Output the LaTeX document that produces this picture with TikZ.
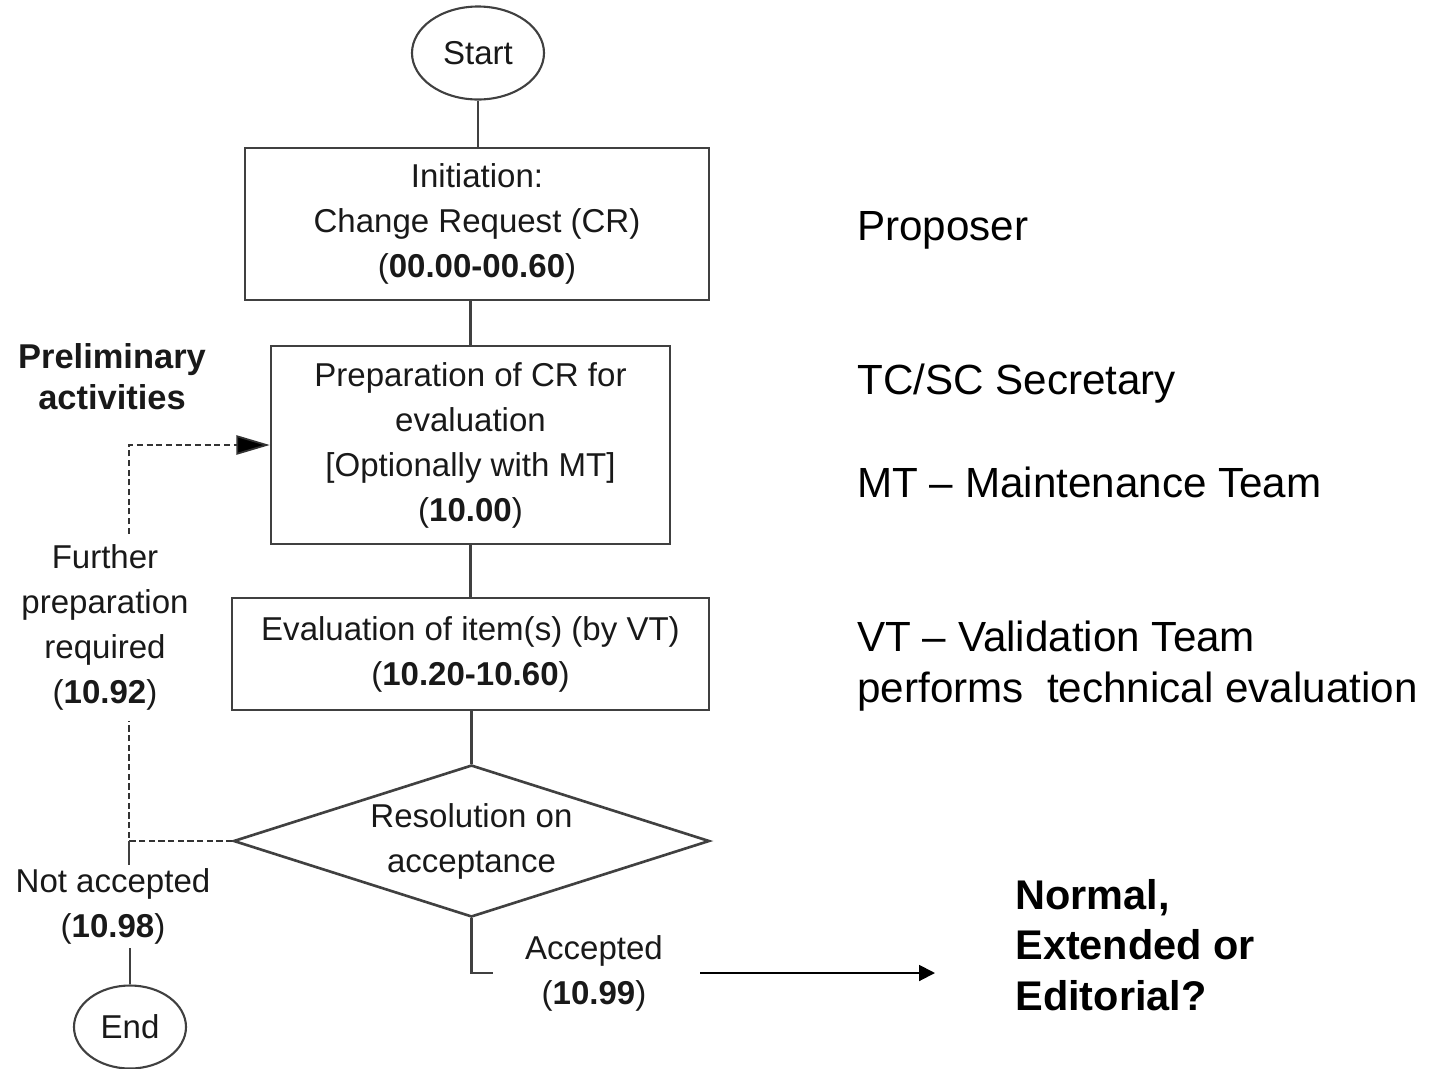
\documentclass[tikz,border=0pt]{standalone}
\usepackage{fontspec}
\setmainfont{Liberation Sans}
\usetikzlibrary{shapes.geometric,arrows.meta}
\newcommand{\flowfont}{\fontsize{18.8}{25.6}\selectfont}

\begin{document}
\begin{tikzpicture}[
        box/.style={draw=black!75,line width=1.5pt,inner sep=0pt,align=center,text=black!90,font=\flowfont},
        term/.style={draw=black!75,line width=1.2pt,ellipse,inner sep=0pt,text=black!90,font=\flowfont},
        lbl/.style={inner sep=2pt,align=center,text=black!90,font=\flowfont},
        side/.style={anchor=base west,inner sep=0pt,align=left,font=\fontsize{24}{28.5}\selectfont},
        link/.style={black!75,line width=1.5pt},
        back/.style={black!80,line width=1pt,dash pattern=on 3.5pt off 2pt},
    ]
        \useasboundingbox (0,0) rectangle (28.62,-21.38);
        %% Blocks
        \node[term,minimum width=2.64cm,minimum height=1.86cm] (Start) at (9.56,-1.06) {Start};
        \node[box,minimum width=9.28cm,minimum height=3.04cm] (Init) at (9.54,-4.48) {Initiation:\\ Change Request (CR)\\ (\textbf{00.00-00.60})};
        \node[box,minimum width=7.98cm,minimum height=3.96cm] (Prep) at (9.41,-8.9) {Preparation of CR for\\ evaluation\\ {[Optionally with MT]}\\ (\textbf{10.00})};
        \node[box,minimum width=9.54cm,minimum height=2.24cm] (Eval) at (9.41,-13.08) {Evaluation of item(s) (by VT)\\ (\textbf{10.20-10.60})};
        \node[box,diamond,aspect=3.13,minimum width=9.52cm,minimum height=3.04cm] (Res) at (9.43,-16.82) {Resolution on\\ acceptance};
        \node[term,minimum width=2.24cm,minimum height=1.66cm] (End) at (2.6,-20.54) {End};
        %% Labels
        \node[align=center,font=\bfseries\fontsize{19.6}{23.3}\selectfont,text=black!90] (Prelim) at (2.24,-7.53) {Preliminary\\ activities};
        \node[lbl,inner sep=6pt] (Further) at (2.1,-12.55) {Further\\ preparation\\ required\\ (\textbf{10.92})};
        \node[lbl] (NotAcc) at (2.26,-18.13) {Not accepted\\ (\textbf{10.98})};
        \node[lbl] (Acc) at (11.88,-19.46) {Accepted\\ (\textbf{10.99})};
        %% Roles (base = last line)
        \node[side] (Proposer) at (17.14,-4.8) {Proposer};
        \node[side] (Secretary) at (17.14,-7.88) {TC/SC Secretary};
        \node[side] (MTeam) at (17.14,-9.94) {MT – Maintenance Team};
        \node[side] (VTeam) at (17.14,-14.04) {VT – Validation Team\\ performs\ \ technical evaluation};
        \node[side,font=\bfseries\fontsize{23.6}{28.5}\selectfont] (Choice) at (20.3,-20.2) {Normal,\\ Extended or\\ Editorial?};
        %% Lines
        \draw[link] (Start.south) -- (Start.south |- Init.north);
        \draw[link] (Prep.north) -- (Prep.north |- Init.south);
        \draw[link] (Prep.south) -- (Eval.north);
        \draw[link] (Res.north) -- (Res.north |- Eval.south);
        \coordinate (AccEnd) at (9.86,-19.46);
        \draw[link] (Res.south) |- (AccEnd);
        \coordinate (Tip) at (18.7,-19.46);
        \draw[line width=1.1pt,-{Triangle[length=9pt,width=9pt]}] ([xshift=0.67cm]Acc.east) -- (Tip);
        %% Back loop
        \coordinate (Corner) at (2.58,-16.82);
        \draw[back] (Res.west) -- (Corner) -- (Corner |- Further.south);
        \draw[back,-{Triangle[length=19pt,width=11pt,fill=black]}] (Corner |- Further.north) |- (Prep.west);
        \draw[link,line width=1pt] (Corner) -- (Corner |- NotAcc.north);
        \draw[link,line width=1pt] (End.north) -- (End.north |- NotAcc.south);
    \end{tikzpicture}
\end{document}
